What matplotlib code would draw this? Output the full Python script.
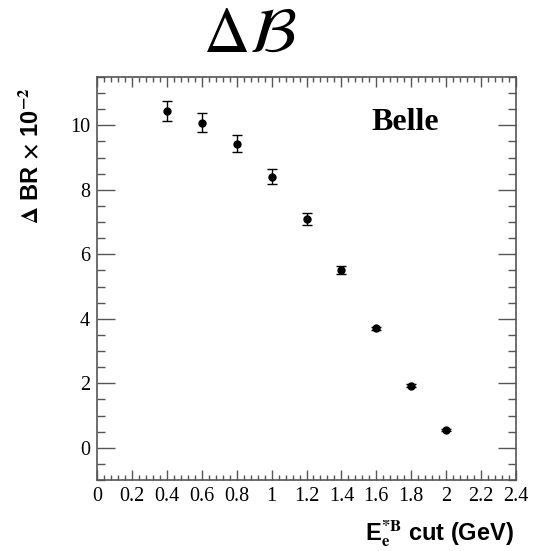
import matplotlib
matplotlib.use("Agg")
import matplotlib.pyplot as plt
from matplotlib.ticker import MultipleLocator

plt.rcParams['mathtext.fontset'] = 'stix'

ecut = [0.4, 0.6, 0.8, 1.0, 1.2, 1.4, 1.6, 1.8, 2.0]
dbr = [10.44, 10.08, 9.43, 8.41, 7.10, 5.51, 3.70, 1.93, 0.55]
err = [0.31, 0.29, 0.27, 0.24, 0.18, 0.12, 0.05, 0.04, 0.03]
xticks = [0, 0.2, 0.4, 0.6, 0.8, 1, 1.2, 1.4, 1.6, 1.8, 2, 2.2, 2.4]
xticklabels = ['0', '0.2', '0.4', '0.6', '0.8', '1', '1.2', '1.4', '1.6', '1.8', '2', '2.2', '2.4']
yticks = [0, 2, 4, 6, 8, 10]

W, H = 534, 551
fig = plt.figure(figsize=(W / 100, H / 100), dpi=100)
ax = fig.add_axes([97 / W, 1 - 480 / H, (516 - 97) / W, (480 - 77) / H])

ax.errorbar(ecut, dbr, yerr=err, fmt='o', color='black', ms=5,
            elinewidth=1.0, capsize=3.5, capthick=1.0)

ax.set_xlim(0, 2.4)
ax.set_ylim(-1, 11.5)
ax.set_xticks(xticks)
ax.set_xticklabels(xticklabels, family='Liberation Serif', fontsize=14.5)
ax.set_yticks(yticks)
ax.set_yticklabels([str(v) for v in yticks], family='Liberation Serif', fontsize=14.5)
ax.xaxis.set_minor_locator(MultipleLocator(0.04))
ax.yaxis.set_minor_locator(MultipleLocator(0.5))

ax.tick_params(axis='both', which='both', direction='in', top=True, right=True,
               color='#555555', width=1.0)
ax.tick_params(axis='y', which='major', length=13, pad=5)
ax.tick_params(axis='y', which='minor', length=6)
ax.tick_params(axis='x', which='major', length=7, pad=5)
ax.tick_params(axis='x', which='minor', length=3.5)
for s in ax.spines.values():
    s.set_color('#555555')
    s.set_linewidth(1.2)

ax.set_ylabel(r'$\mathbf{\Delta}$ BR $\mathbf{\times}$ 10$^{\mathbf{-2}}$',
              family='Liberation Sans', fontweight='bold', fontsize=17, loc='top')
ax.yaxis.set_label_coords(-0.128, 0.975)
ax.set_xlabel(r'E$_{\mathbf{e}}^{\mathbf{*B}}$ cut (GeV)',
              family='Liberation Sans', fontweight='bold', fontsize=17, loc='right')
ax.xaxis.set_label_coords(0.995, -0.095)

ax.text(0.735, 0.886, 'Belle', transform=ax.transAxes, ha='center', va='center',
        family='Liberation Serif', fontweight='bold', fontsize=23)

fig.text(250 / W, 1 - 34 / H, r'$\Delta\mathcal{B}$', ha='center', va='center',
         fontsize=46)

fig.savefig('out.png', dpi=100, facecolor='white')
